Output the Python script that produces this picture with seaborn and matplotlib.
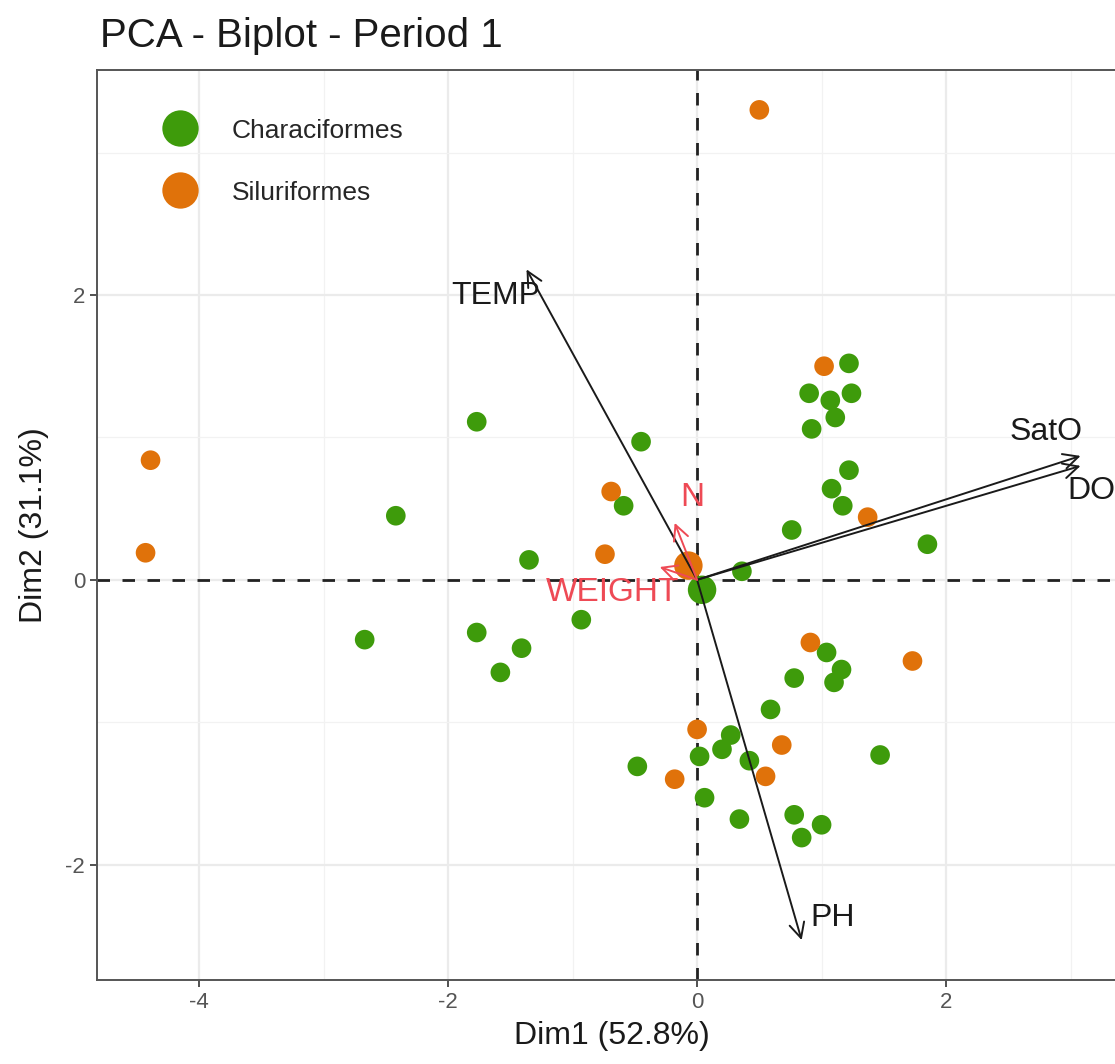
import matplotlib
matplotlib.use("Agg")
import matplotlib.pyplot as plt
import seaborn as sns
import pandas as pd
import numpy as np

# ---------------- data ----------------
char_x = [-1.77, -2.42, -2.67, -1.77, -1.58, -1.41, -1.35, -0.93, -0.45, -0.59,
          0.36, 1.22, 0.90, 1.07, 1.24, 1.11, 0.92, 1.22, 1.08, 1.17,
          0.76, 1.85, 1.04, 1.16, 1.10, 0.78, 0.59, 0.27, 0.20, 0.02,
          -0.48, 0.42, 0.06, 0.34, 0.78, 1.00, 0.84, 1.47]
char_y = [1.11, 0.45, -0.42, -0.37, -0.65, -0.48, 0.14, -0.28, 0.97, 0.52,
          0.06, 1.52, 1.31, 1.26, 1.31, 1.14, 1.06, 0.77, 0.64, 0.52,
          0.35, 0.25, -0.51, -0.63, -0.72, -0.69, -0.91, -1.09, -1.19, -1.24,
          -1.31, -1.27, -1.53, -1.68, -1.65, -1.72, -1.81, -1.23]
silu_x = [0.50, -4.39, -4.43, 1.02, -0.69, -0.74, 1.37, 0.91, 1.73, 0.00, 0.68, -0.18, 0.55]
silu_y = [3.30, 0.84, 0.19, 1.50, 0.62, 0.18, 0.44, -0.44, -0.57, -1.05, -1.16, -1.40, -1.38]

groups = ["Characiformes", "Siluriformes"]
centroid_x = [0.04, -0.07]
centroid_y = [-0.07, 0.10]

var_names = ["TEMP", "SatO", "DO", "PH", "N", "WEIGHT"]
var_x = [-1.37, 3.08, 3.08, 0.84, -0.18, -0.30]
var_y = [2.18, 0.87, 0.80, -2.53, 0.40, 0.09]
var_supp = [False, False, False, False, True, True]

title = "PCA - Biplot - Period 1"
xlabel = "Dim1 (52.8%)"
ylabel = "Dim2 (31.1%)"
x_ticks = [-4, -2, 0, 2]
y_ticks = [-2, 0, 2]

# ---------------- style ----------------
sns.set_theme(style="white")
plt.rcParams["font.family"] = ["Liberation Sans", "DejaVu Sans"]
plt.rcParams["axes.unicode_minus"] = False

palette = {"Characiformes": "#3E9B0B", "Siluriformes": "#E0720A"}
supp_color = "#EE4A55"

df = pd.DataFrame({
    "x": char_x + silu_x,
    "y": char_y + silu_y,
    "group": ["Characiformes"] * len(char_x) + ["Siluriformes"] * len(silu_x),
})
cdf = pd.DataFrame({"x": centroid_x, "y": centroid_y, "group": groups})

fig = plt.figure(figsize=(11.15, 10.64), dpi=100)
W, H = 1115, 1064
x_left, x_right = -4.82, 3.45
y_bot, y_top = -2.81, 3.58
px_per_x = 124.5
ax_left_px = 97
ax_w_px = (x_right - x_left) * px_per_x
ax = fig.add_axes([ax_left_px / W, (H - 980) / H, ax_w_px / W, 910 / H])

ax.set_xlim(x_left, x_right)
ax.set_ylim(y_bot, y_top)

# grid
ax.set_xticks(x_ticks)
ax.set_yticks(y_ticks)
ax.set_xticks([-3, -1, 1, 3], minor=True)
ax.set_yticks([-1, 1, 3], minor=True)
ax.grid(True, which="major", color="#EBEBEB", linewidth=1.6, zorder=0)
ax.grid(True, which="minor", color="#F2F2F2", linewidth=0.9, zorder=0)
ax.set_axisbelow(True)

# zero lines
ax.axhline(0, color="#222222", linewidth=2.0, dashes=(4.5, 4.5), zorder=1)
ax.axvline(0, color="#222222", linewidth=2.0, dashes=(4.5, 4.5), zorder=1)

# points
sns.scatterplot(data=df, x="x", y="y", hue="group", hue_order=groups,
                palette=palette, s=200, linewidth=0, ax=ax, zorder=3, legend=True)
sns.scatterplot(data=cdf, x="x", y="y", hue="group", hue_order=groups,
                palette=palette, s=420, linewidth=0, ax=ax, zorder=3, legend=False)

# variable arrows
offsets = {"TEMP": (-22, -19), "SatO": (-25, 17), "DO": (8, -18),
           "PH": (22, 16), "N": (13, 18), "WEIGHT": (-34, -18)}
for name, vx, vy, supp in zip(var_names, var_x, var_y, var_supp):
    col = supp_color if supp else "#1A1A1A"
    ax.annotate("", xy=(vx, vy), xytext=(0, 0),
                arrowprops=dict(arrowstyle="->,head_length=0.9,head_width=0.45",
                                color=col, linewidth=1.4, shrinkA=0, shrinkB=0),
                zorder=4)
    ax.annotate(name, xy=(vx, vy), xytext=offsets[name], textcoords="offset points",
                ha="center", va="center", fontsize=24 if supp else 23,
                color=supp_color if supp else "#1A1A1A", zorder=5,
                annotation_clip=False)

# axes styling
for sp in ax.spines.values():
    sp.set_color("#555555")
    sp.set_linewidth(1.4)
ax.tick_params(axis="both", which="major", length=5, width=1.2, color="#333333",
               labelsize=16, labelcolor="#555555", bottom=True, left=True)
ax.tick_params(axis="both", which="minor", length=0)
ax.set_xlabel(xlabel, fontsize=23, color="#1A1A1A", labelpad=6)
ax.set_ylabel(ylabel, fontsize=23, color="#1A1A1A", labelpad=12)

# legend
handles, labels = ax.get_legend_handles_labels()
leg = ax.legend(handles, labels, loc="upper left", frameon=False, fontsize=19,
                markerscale=1.85, handletextpad=0.95, labelspacing=1.44,
                bbox_to_anchor=(0.0375, 0.967), borderaxespad=0.3)

fig.text(100 / W, 1 - 47 / H, title, fontsize=29, color="#1A1A1A",
         ha="left", va="baseline")

fig.savefig("out.png", dpi=100)
